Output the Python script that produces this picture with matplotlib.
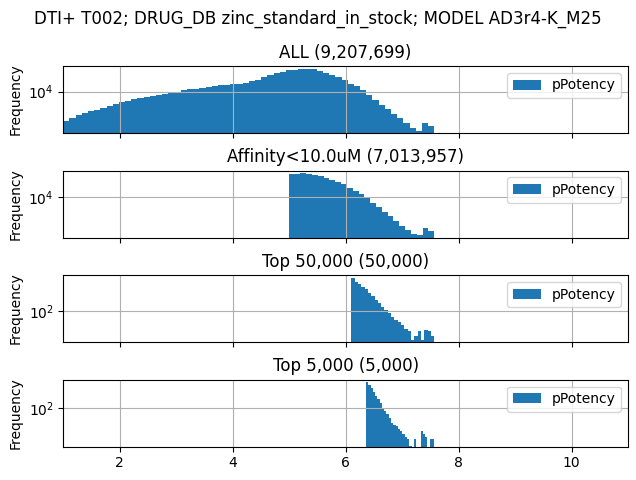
import numpy as np
import matplotlib
matplotlib.use("Agg")
import matplotlib.pyplot as plt
from matplotlib.ticker import NullLocator

suptitle = "DTI+ T002; DRUG_DB zinc_standard_in_stock; MODEL AD3r4-K_M25"
titles = ["ALL (9,207,699)", "Affinity<10.0uM (7,013,957)",
          "Top 50,000 (50,000)", "Top 5,000 (5,000)"]
series_name = "pPotency"

# histogram ranges (pPotency) and bin counts
all_range = (1.0, 7.57)
all_counts = [36, 64, 104, 150, 211, 304, 447, 656, 962, 1334,
              1711, 2239, 2818, 3415, 4140, 5110, 6310, 7940, 10000, 12350,
              14960, 17780, 21130, 25120, 28730, 32240, 36880, 41380, 45510, 49170,
              73560, 101900, 152500, 228200, 341400, 455200, 595700, 694600, 779300, 764600,
              721600, 541200, 383100, 261000, 167900, 85770, 42990, 26610, 12590, 4730,
              1849, 794, 329, 136, 57, 22, 8, 5, 22, 14]

aff_range = (4.99, 7.57)
aff_counts = [736000, 857000, 891000, 841000, 708000, 531000, 398000, 261000, 181000, 108000,
              53100, 29900, 16800, 7360, 3160, 1390, 562, 233, 94, 40,
              18, 8, 6, 25, 14]

top50k_range = (6.10, 7.57)
top50k_counts = [18000, 10500, 7280, 4740, 3140, 1830, 1080, 574, 340, 198,
                 117, 69, 37, 24, 17, 10, 6, 4, 1, 2,
                 4, 1, 5, 4, 2]

top5k_range = (6.36, 7.57)
top5k_counts = [1520, 1150, 811, 533, 374, 265, 169, 106, 75, 53,
                37, 21, 17, 15, 11, 9, 7, 5, 4, 2,
                1, 4, 1, 1, 9, 7, 5, 1, 4, 4]

panels = [(all_range, all_counts), (aff_range, aff_counts),
          (top50k_range, top50k_counts), (top5k_range, top5k_counts)]

ylims = [(10 ** 0.517, 10 ** 6.142), (10 ** 0.6, 10 ** 6.183),
         (10 ** -0.152, 10 ** 4.469), (10 ** 0.255, 10 ** 3.3)]
yticks = [[1e4], [1e4], [1e2], [1e2]]
xticks = [2, 4, 6, 8, 10]
xlim = (1, 11)

fig, axes = plt.subplots(4, 1, figsize=(6.36, 4.8), dpi=100, sharex=True)
fig.subplots_adjust(left=0.0995, right=0.9874, top=0.8625, bottom=0.0694, hspace=0.56)

for ax, (rng, counts), title, yl, yt in zip(axes, panels, titles, ylims, yticks):
    counts = np.asarray(counts, dtype=float)
    edges = np.linspace(rng[0], rng[1], len(counts) + 1)
    ax.hist(edges[:-1], bins=edges, weights=counts, color="#1f77b4", label=series_name)
    ax.set_yscale("log")
    ax.set_ylim(*yl)
    ax.set_yticks(yt)
    ax.yaxis.set_minor_locator(NullLocator())
    ax.set_xlim(*xlim)
    ax.set_xticks(xticks)
    ax.grid(True)
    ax.set_ylabel("Frequency")
    ax.set_title(title)
    ax.legend(loc="upper right")

fig.suptitle(suptitle, fontsize=12)
fig.savefig("out.png", dpi=100)
